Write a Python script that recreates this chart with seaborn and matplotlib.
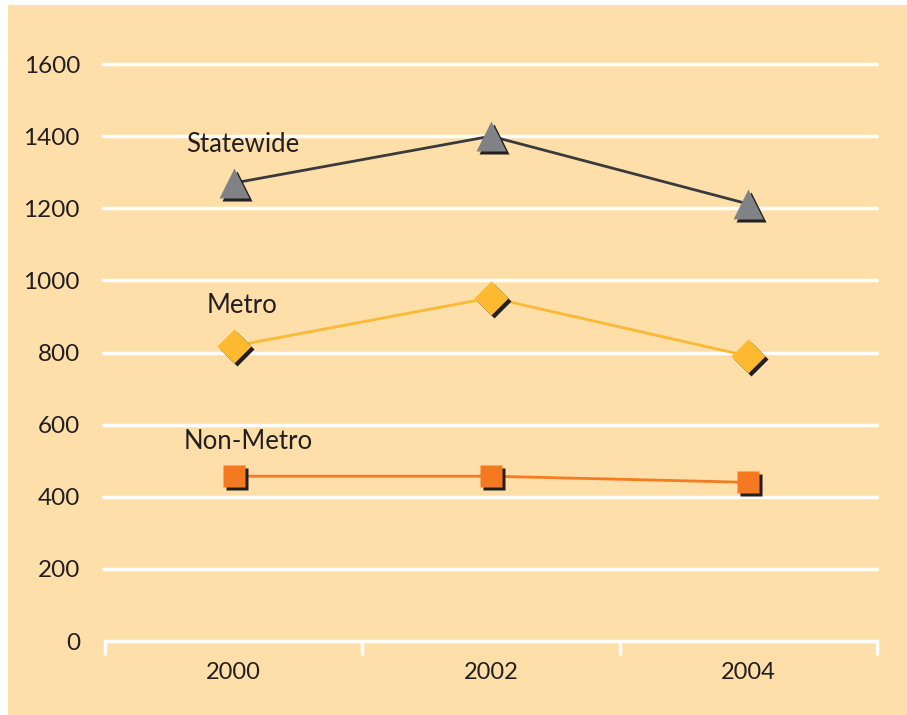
import matplotlib
matplotlib.use("Agg")
import matplotlib.pyplot as plt
import matplotlib.transforms as mtransforms
from matplotlib.patches import Rectangle
import numpy as np
import pandas as pd
import seaborn as sns

years = ["2000", "2002", "2004"]
statewide = [1270, 1400, 1212]
metro = [818, 952, 790]
non_metro = [457, 457, 440]
y_ticks = [0, 200, 400, 600, 800, 1000, 1200, 1400, 1600]

series = [
    # name, values, line colour, marker, marker colour, marker size, label pos (x idx, y)
    ("Statewide", statewide, "#3a3a3c", "^", "#808285", 22, (-0.185, 1378)),
    ("Metro", metro, "#fbb934", "D", "#fdb930", 17, (-0.105, 930)),
    ("Non-Metro", non_metro, "#f47b20", "s", "#f47920", 16, (-0.195, 553)),
]

bg = "#fedfaa"
ink = "#231f20"

sns.set_theme(style="white")
plt.rcParams["font.family"] = ["Lato", "DejaVu Sans"]

fig = plt.figure(figsize=(9.07, 7.15), dpi=100, facecolor="white")
fig.patches.append(Rectangle((8 / 907, 0), 1, 1 - 5 / 715, transform=fig.transFigure,
                             facecolor=bg, edgecolor="none", zorder=-10))
ax = fig.add_axes([105 / 907, 1 - 641 / 715, (877 - 105) / 907, (641 - 28) / 715])
ax.set_zorder(1)
ax.set_facecolor("none")

x = np.arange(len(years))
shadow = mtransforms.offset_copy(ax.transData, fig=fig, x=3, y=-3, units="dots")

for name, vals, lc, mk, mc, ms, (lx, ly) in series:
    df = pd.DataFrame({"x": x, "y": vals})
    sns.lineplot(data=df, x="x", y="y", color=lc, lw=2, ax=ax, zorder=3)
    ax.plot(x, vals, ls="none", marker=mk, ms=ms, color=ink, mec="none",
            transform=shadow, zorder=4)
    ax.plot(x, vals, ls="none", marker=mk, ms=ms, color=mc, mec="none", zorder=5)
    ax.text(lx, ly, name, fontsize=18.5, color=ink, ha="left", va="center", zorder=6)

ax.set_xlim(-0.5, 2.5)
ax.set_ylim(0, 1700)
ax.set_yticks(y_ticks)
ax.set_yticklabels([str(v) for v in y_ticks])
ax.set_xticks(x)
ax.set_xticklabels(years)
ax.set_xticks([-0.5, 0.5, 1.5, 2.5], minor=True)
ax.set_xlabel("")
ax.set_ylabel("")

for v in y_ticks[1:]:
    ax.axhline(v, xmin=-0.003, xmax=1, color="white", lw=2.5, zorder=1, clip_on=False)

for s in ["top", "right", "left"]:
    ax.spines[s].set_visible(False)
ax.spines["bottom"].set_color("white")
ax.spines["bottom"].set_linewidth(2.5)

ax.tick_params(axis="y", length=0, pad=18, labelsize=17.5, labelcolor=ink)
ax.tick_params(axis="x", which="major", length=0, pad=15, labelsize=17, labelcolor=ink)
ax.tick_params(axis="x", which="minor", bottom=True, length=10, width=2.5,
               color="white", direction="out")

fig.savefig("out.png", dpi=100, facecolor=fig.get_facecolor())
